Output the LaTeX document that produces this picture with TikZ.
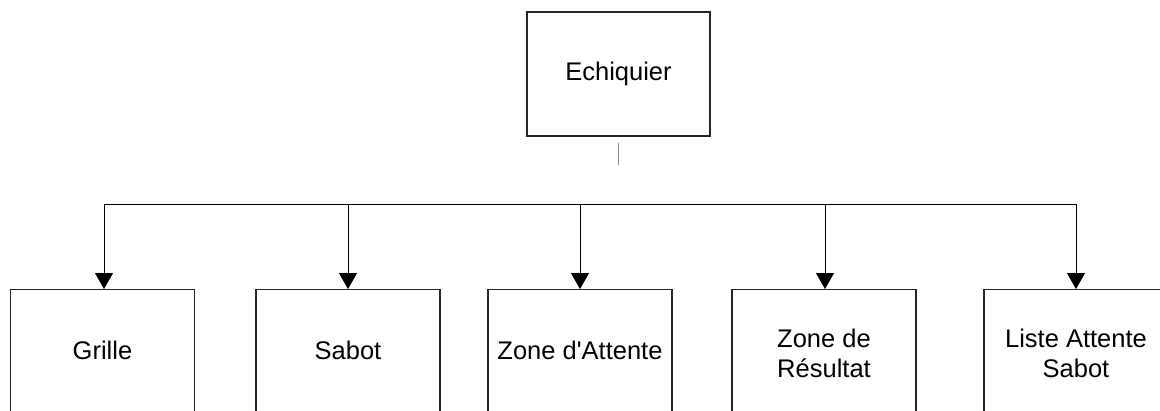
\documentclass[tikz,border=0pt]{standalone}
\usepackage{fontspec}
\setmainfont{Liberation Sans}
% a family without the TeX quote mapping, so ' stays a straight quote
\newfontfamily\labelfamily{Liberation Sans}
\usetikzlibrary{arrows.meta}
\begin{document}
\begin{tikzpicture}[x=1pt,y=1pt,
  labelfont/.style={font=\labelfamily\fontsize{25.5}{30}\selectfont, align=center, text=black},
  classbox/.style={draw=black!85, line width=1.1pt, fill=white, inner sep=0pt},
  topbox/.style={classbox, labelfont, minimum width=183pt, minimum height=124pt},
  subbox/.style={classbox, minimum width=184pt, minimum height=170pt, anchor=north},
  link/.style={draw=black, line width=0.9pt},
  arrowlink/.style={link, -{Triangle[width=18pt,length=16pt]}}]
% page frame; the lower boxes run past its edges
\clip (0,0) rectangle (1160,-410);
\fill[white] (0,0) rectangle (1160,-410);

% parent class
\node[topbox] (echiquier) at (618.5,-74) {Echiquier};

% child classes (top edge at y = 289)
\node[subbox] (grille)   at (102.5,-289) {};
\node[subbox] (sabot)    at (348,-289)   {};
\node[subbox] (attente)  at (580,-289)   {};
\node[subbox] (resultat) at (824,-289)   {};
\node[subbox] (liste)    at (1076,-289)  {};

% labels of the child classes
\node[labelfont] (lgrille)   at (102.5,-350) {Grille};
\node[labelfont] (lsabot)    at (348,-350)   {Sabot};
\node[labelfont] (lattente)  at (580,-350)   {Zone d'Attente};
\node[labelfont] (lresultat) at (824,-353)   {Zone de\\Résultat};
\node[labelfont] (lliste)    at (1076,-353)  {Liste Attente\\Sabot};

% stem below the parent
\coordinate (stemtop) at ([yshift=-6pt]echiquier.south);
\coordinate (stembot) at ([yshift=-28pt]echiquier.south);
\draw[link, draw=black!45] (stemtop) -- (stembot);

% distribution bus
\coordinate (bgrille)   at (104,-204);
\coordinate (bsabot)    at (348,-204);
\coordinate (battente)  at (580,-204);
\coordinate (bresultat) at (825,-204);
\coordinate (bliste)    at (1076,-204);
\draw[link] (bgrille) -- (bliste);

% arrows down to each child
\draw[arrowlink] (bgrille)   -- (bgrille |- grille.north);
\draw[arrowlink] (bsabot)    -- (sabot.north);
\draw[arrowlink] (battente)  -- (attente.north);
\draw[arrowlink] (bresultat) -- (bresultat |- resultat.north);
\draw[arrowlink] (bliste)    -- (liste.north);
\end{tikzpicture}
\end{document}
